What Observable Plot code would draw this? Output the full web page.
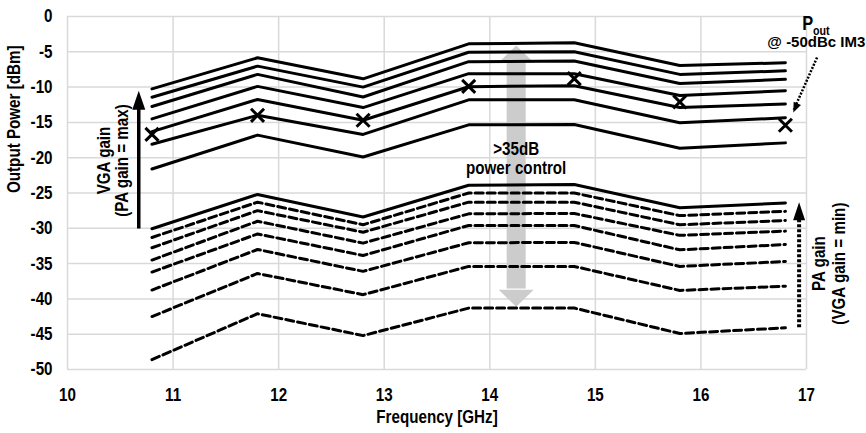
<!DOCTYPE html>
<html><head><meta charset="utf-8">
<script src="https://cdn.jsdelivr.net/npm/d3@7"></script>
<script src="https://cdn.jsdelivr.net/npm/@observablehq/plot@0.6"></script>
<style>body{margin:0;background:#fff}</style>
</head><body><div id="chart"></div>
<script>
// Frequencies (GHz)
const freq = [10.8, 11.8, 12.8, 13.8, 14.8, 15.8, 16.8];

// VGA gain sweep (PA gain = max), solid lines, top to bottom
const vga1 = [-10.25, -5.85, -8.83, -3.87, -3.73, -6.94, -6.56];
const vga2 = [-11.43, -7.03, -10.0, -5.06, -5.0, -8.2, -7.7];
const vga3 = [-12.75, -8.2, -11.4, -6.4, -6.3, -9.5, -8.9];
const vga4 = [-14.5, -9.9, -12.9, -8.1, -8.1, -11.2, -10.5];
const vga5 = [-16.3, -11.75, -14.7, -9.95, -9.8, -12.9, -12.4];
const vga6 = [-18.1, -14.0, -16.7, -11.8, -11.8, -15.05, -14.35];
const vga7 = [-21.6, -16.8, -19.9, -15.35, -15.3, -18.65, -17.9];

// PA gain sweep (VGA gain = min): solid top line, then dashed lines
const paMax = [-30.07, -25.2, -28.4, -23.9, -23.8, -27.1, -26.4];
const pa1 = [-31.3, -26.3, -29.5, -25.0, -25.0, -28.2, -27.6];
const pa2 = [-32.75, -27.5, -30.55, -26.3, -26.3, -29.5, -28.9];
const pa3 = [-34.5, -29.0, -32.1, -27.95, -27.9, -31.0, -30.4];
const pa4 = [-36.2, -30.8, -33.85, -29.6, -29.6, -33.05, -32.3];
const pa5 = [-38.75, -33.0, -36.1, -32.05, -32.0, -35.4, -34.7];
const pa6 = [-42.5, -36.4, -39.4, -35.4, -35.4, -38.8, -38.2];
const pa7 = [-48.6, -42.1, -45.2, -41.3, -41.3, -44.9, -44.1];

// Pout @ -50dBc IM3 markers
const im3 = [-16.7, -14.0, -14.7, -9.9, -8.8, -12.1, -15.4];

// Axis ticks
const xTicks = [10, 11, 12, 13, 14, 15, 16, 17];
const yTicks = [0, -5, -10, -15, -20, -25, -30, -35, -40, -45, -50];

const solidSeries = {vga1, vga2, vga3, vga4, vga5, vga6, vga7, paMax};
const dashedSeries = {pa1, pa2, pa3, pa4, pa5, pa6, pa7};
const tidy = (obj) => Object.entries(obj).flatMap(([id, vals]) => vals.map((v, i) => ({id, x: freq[i], y: v})));
const solidRows = tidy(solidSeries);
const dashedRows = tidy(dashedSeries);
const markerRows = im3.map((v, i) => ({x: freq[i], y: v}));

const FONT = "'Liberation Sans Narrow', 'Arial Narrow', 'Liberation Sans', Arial, sans-serif";

const chart = Plot.plot({
  width: 866,
  height: 433,
  marginLeft: 67,
  marginRight: 60,
  marginTop: 16,
  marginBottom: 64,
  style: {fontFamily: FONT, fontWeight: "bold", fontSize: "18.5px", color: "black", background: "white"},
  x: {domain: [10, 17], ticks: xTicks, tickFormat: d => String(d), tickSize: 0, tickPadding: 18, label: null},
  y: {domain: [-50, 0], ticks: yTicks, tickFormat: d => String(d), tickSize: 0, tickPadding: 15, label: null},
  marks: [
    Plot.gridX(xTicks, {stroke: "#d9d9d9", strokeOpacity: 1, strokeWidth: 1.5}),
    Plot.gridY(yTicks, {stroke: "#d9d9d9", strokeOpacity: 1, strokeWidth: 1.5}),
    // grey ">35dB power control" double arrow
    Plot.ruleX([14.25], {y1: -6.47, y2: -38.6, stroke: "#cccccc", strokeWidth: 19}),
    Plot.vector([{x: 14.25, y: -4.1, r: 0}, {x: 14.25, y: -41.1, r: 180}], {x: "x", y: "y", rotate: "r", anchor: "end", shape: "spike", length: 17, r: 17.5, fill: "#cccccc", stroke: "none"}),
    // curves
    Plot.line(solidRows, {x: "x", y: "y", z: "id", stroke: "black", strokeWidth: 3}),
    Plot.line(dashedRows, {x: "x", y: "y", z: "id", stroke: "black", strokeWidth: 3, strokeDasharray: "8,4"}),
    Plot.dot(markerRows, {x: "x", y: "y", symbol: "times", r: 6, stroke: "black", strokeWidth: 3}),
    // VGA gain arrow
    Plot.ruleX([10.675], {y1: -30.1, y2: -13.0, stroke: "black", strokeWidth: 3.5}),
    Plot.vector([{x: 10.675, y: -10.5}], {x: "x", y: "y", anchor: "end", shape: "spike", length: 19, r: 6.5, fill: "black", stroke: "none"}),
    // PA gain dotted arrow
    Plot.ruleX([16.93], {y1: -44.1, y2: -28.6, stroke: "black", strokeWidth: 4, strokeDasharray: "3,2"}),
    Plot.vector([{x: 16.93, y: -26.3}], {x: "x", y: "y", anchor: "end", shape: "spike", length: 18, r: 6, fill: "black", stroke: "none"}),
    // Pout pointer
    Plot.link([{x1: 17.10, y1: -5.8, x2: 16.88, y2: -13.2}], {x1: "x1", y1: "y1", x2: "x2", y2: "y2", stroke: "black", strokeWidth: 2.5, strokeDasharray: "2,1.5"}),
    Plot.vector([{x: 16.875, y: -13.6}], {x: "x", y: "y", anchor: "end", rotate: 203.6, shape: "spike", length: 10, r: 4, fill: "black", stroke: "none"}),
    // texts
    Plot.text([">35dB", "power control"], {x: [14.25, 14.25], y: [-18.8, -21.4], text: d => d, fill: "black"}),
    Plot.text(["VGA gain", "(PA gain = max)"], {x: [10.344, 10.518], y: [-20.4, -20.4], text: d => d, rotate: -90, fill: "black"}),
    Plot.text(["PA gain", "(VGA gain = min)"], {x: [17.115, 17.305], y: [-35.0, -35.0], text: d => d, rotate: -90, fill: "black"}),
    Plot.text(["P"], {x: [17.012], y: [-0.99], text: d => d, fill: "black", fontSize: 20}),
    Plot.text(["out"], {x: [17.14], y: [-2.1], text: d => d, fill: "black", fontSize: 13}),
    Plot.text(["@ -50dBc IM3"], {x: [17.093], y: [-3.64], text: d => d, fill: "black", fontSize: 15, className: "nocondense"}),
    // axis titles
    Plot.text(["Output Power [dBm]"], {frameAnchor: "left", dx: -53, rotate: -90, text: d => d, fill: "black"}),
    Plot.text(["Frequency [GHz]"], {frameAnchor: "bottom", dy: 53, text: d => d, fill: "black"})
  ]
});
document.getElementById("chart").appendChild(chart);
// emulate a condensed (Arial Narrow-like) face when no narrow font is installed
chart.querySelectorAll("text").forEach(el => {
  if (el.closest(".nocondense")) return;
  const w = el.getComputedTextLength();
  if (w > 0) {
    el.setAttribute("textLength", (w * 0.82).toFixed(2));
    el.setAttribute("lengthAdjust", "spacingAndGlyphs");
  }
});
</script>
</body></html>
